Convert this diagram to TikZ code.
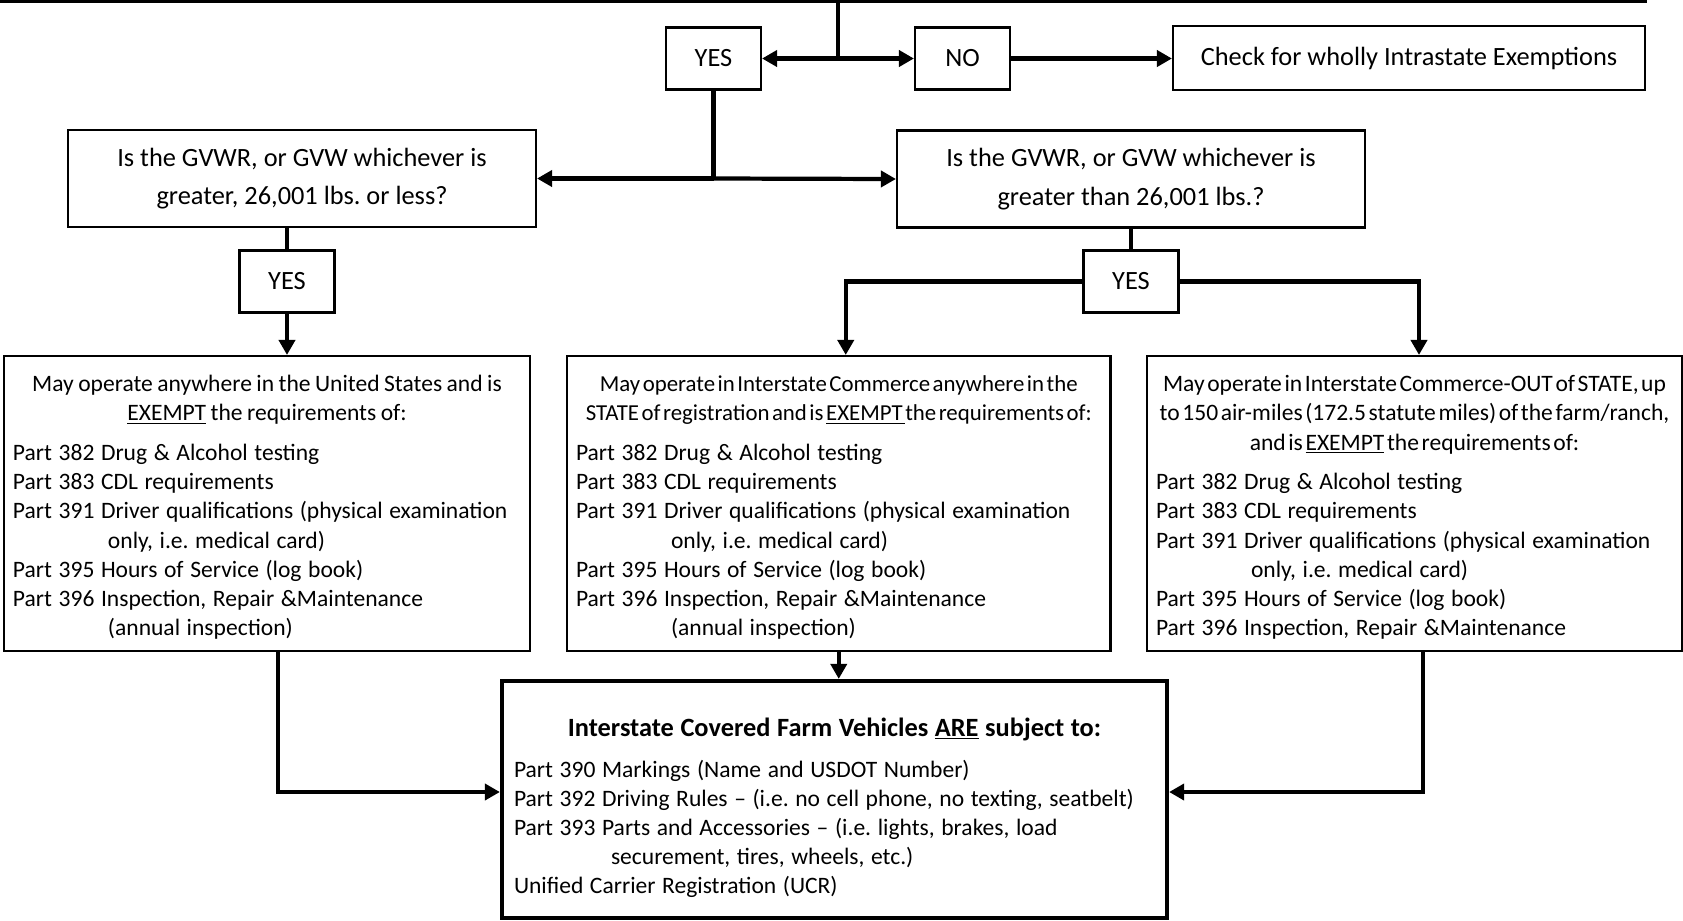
\documentclass[tikz,border=0pt]{standalone}
\usepackage{fontspec}
\setmainfont{Carlito}
\usepackage{tikz}
\usetikzlibrary{arrows.meta,positioning,calc}
\setlength{\parindent}{0pt}
\frenchspacing

\begin{document}
\begin{tikzpicture}[
    x=0.2mm, y=-0.2mm,
    ans/.style={rectangle, draw, line width=1.2pt, minimum width=19mm, minimum height=12.4mm, inner sep=0pt, font=\fontsize{15}{18}\selectfont},
    question/.style={rectangle, draw, line width=1.2pt, minimum width=93.6mm, minimum height=19.4mm, align=center, font=\fontsize{15}{21.9}\selectfont},
    rulebox/.style={rectangle, draw, line width=1.2pt, inner xsep=1.8mm, inner ysep=0pt, align=left, font=\fontsize{13.4}{16.6}\selectfont, execute at begin node={\spaceskip=3.75pt\relax}},
    arrow/.style={line width=2.4pt, -{Triangle[length=3mm, width=3.2mm]}},
    link/.style={line width=2.4pt}
]
    \useasboundingbox (0,0) rectangle (1683,920);

    % Top of the chart
    \coordinate (topL) at (0,1.5);
    \coordinate (topR) at (1647,1.5);
    \coordinate (split) at (838,58.5);
    \node[ans] (yes1) at (713.5,58.5) {YES};
    \node[ans] (no) at (962.5,58.5) {NO};
    \node[ans, minimum width=94.4mm, minimum height=12.8mm] (intra) at (1409,58) {Check for wholly Intrastate Exemptions};

    % Weight questions
    \node[question] (lq) at (302,178.5) {Is the GVWR, or GVW whichever is\\greater, 26,001 lbs. or less?};
    \node[question] (rq) at (1131,179) {Is the GVWR, or GVW whichever is\\greater than 26,001 lbs.?};
    \node[ans] (yes2) at (287,281.5) {YES};
    \node[ans] (yes3) at (1131,281.5) {YES};

    % Exemptions
    \node[rulebox, text width=101.6mm, minimum height=59mm] (lbox) at (267,503.5) {%
        {\centering\spaceskip=0.19em\rule{0pt}{4.8mm}May operate anywhere in the United States and is\\
        \underline{EXEMPT} the requirements of:\par}
        \vspace{2.1mm}
        Part 382 Drug \& Alcohol testing\\
        Part 383 CDL requirements\\
        Part 391 Driver qualifications (physical examination\\
        \hspace*{19mm}only, i.e. medical card)\\
        Part 395 Hours of Service (log book)\\
        Part 396 Inspection, Repair \&Maintenance\\
        \hspace*{19mm}(annual inspection)};
    \node[rulebox, text width=105.1mm, minimum height=59mm] (mbox) at (838.75,503.5) {%
        {\centering\fontsize{13}{16.6}\selectfont\spaceskip=0.11em\rule{0pt}{4.8mm}May operate in Interstate Commerce anywhere in the\\
        STATE of registration and is \underline{EXEMPT\ }the requirements of:\par}
        \vspace{2.1mm}
        Part 382 Drug \& Alcohol testing\\
        Part 383 CDL requirements\\
        Part 391 Driver qualifications (physical examination\\
        \hspace*{19mm}only, i.e. medical card)\\
        Part 395 Hours of Service (log book)\\
        Part 396 Inspection, Repair \&Maintenance\\
        \hspace*{19mm}(annual inspection)};
    \node[rulebox, text width=103.4mm, minimum height=59mm] (rbox) at (1414.5,503.5) {%
        {\centering\spaceskip=0.11em\rule{0pt}{4.8mm}May operate in Interstate Commerce-OUT of STATE, up\\
        to 150 air-miles (172.5 statute miles) of the farm/ranch,\\
        and is \underline{EXEMPT} the requirements of:\par}
        \vspace{2.1mm}
        Part 382 Drug \& Alcohol testing\\
        Part 383 CDL requirements\\
        Part 391 Driver qualifications (physical examination\\
        \hspace*{19mm}only, i.e. medical card)\\
        Part 395 Hours of Service (log book)\\
        Part 396 Inspection, Repair \&Maintenance};

    % Covered farm vehicles
    \node[rulebox, line width=2.4pt, inner xsep=2.4mm, text width=128.2mm, minimum height=47.4mm] (bbox) at (834.5,799.5) {%
        {\centering\fontsize{15}{18}\selectfont\bfseries\rule{0pt}{7mm}Interstate Covered Farm Vehicles \underline{ARE} subject to:\par}
        \vspace{2.4mm}
        Part 390 Markings (Name and USDOT Number)\\
        Part 392 Driving Rules -- (i.e. no cell phone, no texting, seatbelt)\\
        Part 393 Parts and Accessories -- (i.e. lights, brakes, load\\
        \hspace*{19.4mm}securement, tires, wheels, etc.)\\
        Unified Carrier Registration (UCR)};

    % Arrows
    \draw[line width=1.4pt] (topL) -- (topR);
    \draw[link] (split |- topL) -- (split);
    \draw[arrow] (split) -- (yes1.east);
    \draw[arrow] (split) -- (no.west);
    \draw[arrow] (no.east) -- (no.east -| intra.west);

    \coordinate (fork) at (yes1.south |- lq.east);
    \draw[link] (yes1.south) -- (fork);
    \draw[arrow] (fork) -- (lq.east);
    \draw[arrow] (fork) -- (rq.west);

    \draw[link] (yes2.north |- lq.south) -- (yes2.north);
    \draw[arrow] (yes2.south) -- (yes2.south |- lbox.north);
    \draw[link] (rq.south) -- (yes3.north);
    \draw[arrow] (yes3.west) -| ([xshift=1.4mm]mbox.north);
    \draw[arrow] (yes3.east) -| ([xshift=0.9mm]rbox.north);

    \draw[arrow] (mbox.south) -- (mbox.south |- bbox.north);
    \draw[arrow] ([xshift=2.2mm]lbox.south) |- ([yshift=1.5mm]bbox.west);
    \draw[arrow] ([xshift=1.7mm]rbox.south) |- ([yshift=1.5mm]bbox.east);

\end{tikzpicture}
\end{document}
